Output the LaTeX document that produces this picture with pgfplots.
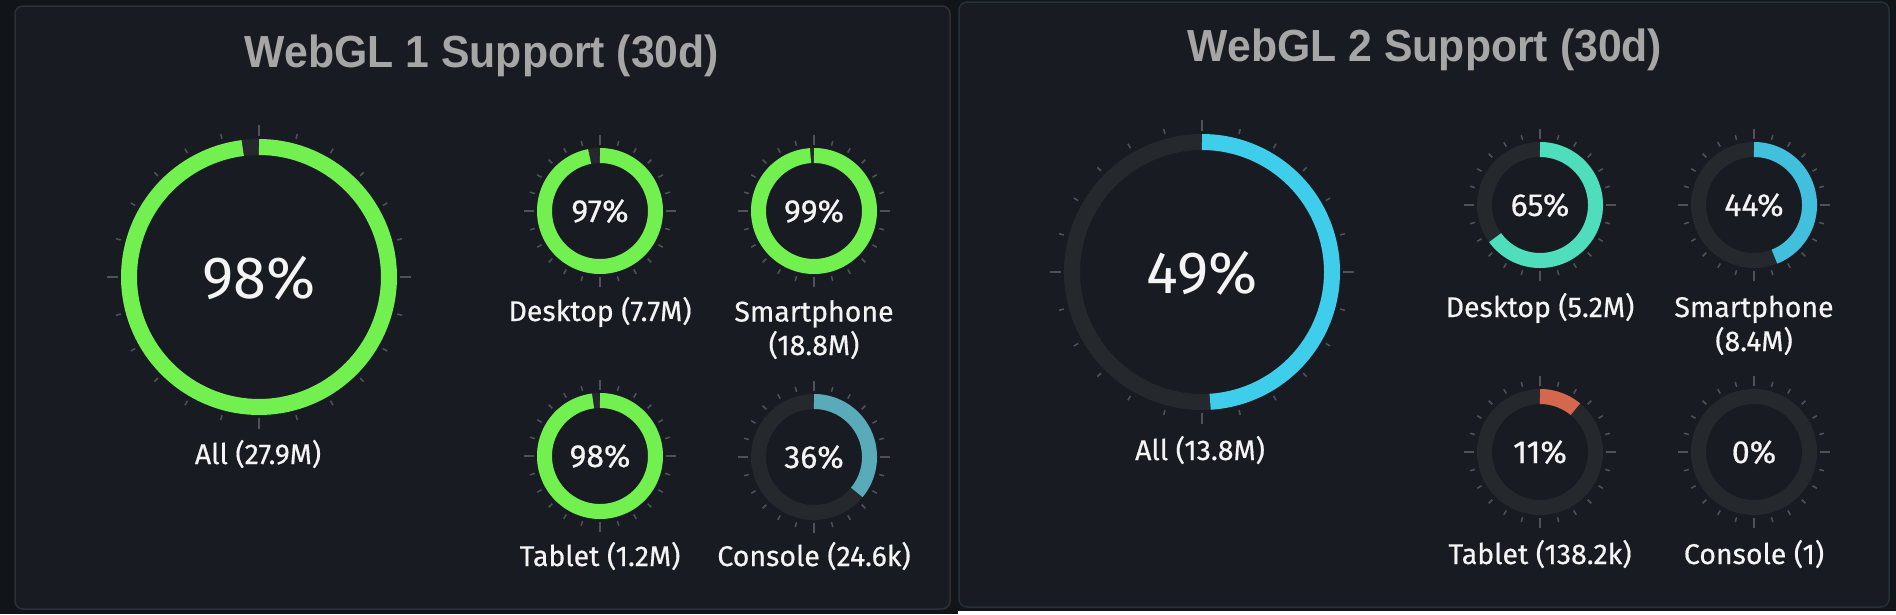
\documentclass[border=0pt]{standalone}
\usepackage{pgfplots}
\pgfplotsset{compat=1.18}
\usepackage{fontspec}
\setmainfont{Fira Sans}
\newfontfamily\labfont{Fira Sans}[FakeBold=0.5]
\newfontfamily\titlefont{Liberation Sans}

\definecolor{outerbg}{HTML}{111418}
\definecolor{panelbg}{HTML}{181B21}
\definecolor{panelbd}{HTML}{2C3037}
\definecolor{panelbdb}{HTML}{26303A}
\definecolor{trackc}{HTML}{25282D}
\definecolor{tickc}{HTML}{4F5257}
\definecolor{titlec}{HTML}{A6A6A6}
\definecolor{txt}{HTML}{F4F4F4}
\definecolor{cgreen}{HTML}{72F04F}
\definecolor{cteal}{HTML}{5AABBA}
\definecolor{ccyan}{HTML}{3FCDEC}
\definecolor{caqua}{HTML}{4FDEBB}
\definecolor{cblue}{HTML}{41BFDD}
\definecolor{cred}{HTML}{D4684F}

% background track: cx cy r w
\newcommand{\track}[4]{%
  \addplot[trackc, line width=#4pt, line cap=butt, domain=0:366, samples=150]
    ({#1+#3*sin(x)},{#2-#3*cos(x)});}
% value arc: cx cy r w pct color
\newcommand{\gauge}[6]{%
  \addplot[#6, line width=#4pt, line cap=butt, domain=0:#5, samples=140]
    ({#1+#3*sin(3.6*x)},{#2-#3*cos(3.6*x)});}
% ticks: cx cy shortin shortout longin longout
\newcommand{\gticks}[6]{%
  \pgfplotsinvokeforeach{15,30,45,60,75,105,120,135,150,165,195,210,225,240,255,285,300,315,330,345}{%
    \addplot[tickc, line width=1.5pt, domain=#3:#4, samples=2]
      ({#1+x*sin(##1)},{#2-x*cos(##1)});}%
  \pgfplotsinvokeforeach{0,90,180,270}{%
    \addplot[tickc, line width=1.5pt, domain=#5:#6, samples=2]
      ({#1+x*sin(##1)},{#2-x*cos(##1)});}%
}
\newcommand{\bigticks}[2]{\gticks{#1}{#2}{143}{148}{141}{152}}
\newcommand{\smallticks}[2]{\gticks{#1}{#2}{67.5}{72.5}{66}{76}}
\newcommand{\lab}{\labfont\fontsize{28.5}{30}\selectfont}
\newcommand{\spct}{\labfont\fontsize{32}{34}\selectfont}
\newcommand{\bpct}{\fontsize{59.5}{62}\selectfont}
\newcommand{\ttl}{\titlefont\bfseries\fontsize{45}{50}\selectfont}

\begin{document}
\begin{tikzpicture}
\begin{axis}[
  scale only axis, width=1896pt, height=614pt,
  xmin=0, xmax=1896, ymin=0, ymax=614, y dir=reverse,
  hide axis, clip=false,
]
% backgrounds
\fill[outerbg] (axis cs:0,0) rectangle (axis cs:1896,614);
\fill[white] (axis cs:958,611) rectangle (axis cs:1896,614);
\draw[panelbd, fill=panelbg, line width=1.5pt, rounded corners=8pt] (axis cs:15,6) rectangle (axis cs:950,609);
\draw[panelbdb, fill=panelbg, line width=1.5pt, rounded corners=8pt] (axis cs:959,2) rectangle (axis cs:1889,607);

% ---------- WebGL 1 ----------
\node[anchor=base, text=titlec, font=\ttl] at (axis cs:482,67) {\scalebox{0.95}[1]{WebGL 1 Support (30d)}};

\bigticks{259}{277}
\track{259}{277}{130}{16}
\gauge{259}{277}{130}{16}{98}{cgreen}
\node[anchor=base, text=txt, font=\bpct] at (axis cs:259,298) {98\%};
\node[anchor=base, text=txt, font=\lab] at (axis cs:258,464) {All (27.9M)};

\smallticks{600}{211}
\track{600}{211}{55.5}{15}
\gauge{600}{211}{55.5}{15}{97}{cgreen}
\node[anchor=base, text=txt, font=\spct] at (axis cs:600,222) {97\%};
\node[anchor=base, text=txt, font=\lab] at (axis cs:600,321) {Desktop (7.7M)};

\smallticks{814}{211}
\track{814}{211}{55.5}{15}
\gauge{814}{211}{55.5}{15}{99}{cgreen}
\node[anchor=base, text=txt, font=\spct] at (axis cs:814,222) {99\%};
\node[anchor=base, text=txt, font=\lab] at (axis cs:814,321.5) {Smartphone};
\node[anchor=base, text=txt, font=\lab] at (axis cs:814,355) {(18.8M)};

\smallticks{600}{456}
\track{600}{456}{55.5}{15}
\gauge{600}{456}{55.5}{15}{98}{cgreen}
\node[anchor=base, text=txt, font=\spct] at (axis cs:600,467) {98\%};
\node[anchor=base, text=txt, font=\lab] at (axis cs:600,566) {Tablet (1.2M)};

\smallticks{814}{457}
\track{814}{457}{55.5}{15}
\gauge{814}{457}{55.5}{15}{36}{cteal}
\node[anchor=base, text=txt, font=\spct] at (axis cs:814,468) {36\%};
\node[anchor=base, text=txt, font=\lab] at (axis cs:814,566) {Console (24.6k)};

% ---------- WebGL 2 ----------
\node[anchor=base, text=titlec, font=\ttl] at (axis cs:1425,61) {\scalebox{0.95}[1]{WebGL 2 Support (30d)}};

\bigticks{1202}{272}
\track{1202}{272}{130}{16}
\gauge{1202}{272}{130}{16}{49}{ccyan}
\node[anchor=base, text=txt, font=\bpct] at (axis cs:1202,293) {49\%};
\node[anchor=base, text=txt, font=\lab] at (axis cs:1200,460) {All (13.8M)};

\smallticks{1540}{205}
\track{1540}{205}{55.5}{15}
\gauge{1540}{205}{55.5}{15}{65}{caqua}
\node[anchor=base, text=txt, font=\spct] at (axis cs:1540,216) {65\%};
\node[anchor=base, text=txt, font=\lab] at (axis cs:1540,317) {Desktop (5.2M)};

\smallticks{1754}{205}
\track{1754}{205}{55.5}{15}
\gauge{1754}{205}{55.5}{15}{44}{cblue}
\node[anchor=base, text=txt, font=\spct] at (axis cs:1754,216) {44\%};
\node[anchor=base, text=txt, font=\lab] at (axis cs:1754,317) {Smartphone};
\node[anchor=base, text=txt, font=\lab] at (axis cs:1754,351) {(8.4M)};

\smallticks{1540}{452}
\track{1540}{452}{55.5}{15}
\gauge{1540}{452}{55.5}{15}{11}{cred}
\node[anchor=base, text=txt, font=\spct] at (axis cs:1540,463) {11\%};
\node[anchor=base, text=txt, font=\lab] at (axis cs:1540,564) {Tablet (138.2k)};

\smallticks{1754}{452}
\track{1754}{452}{55.5}{15}
\node[anchor=base, text=txt, font=\spct] at (axis cs:1754,463) {0\%};
\node[anchor=base, text=txt, font=\lab] at (axis cs:1754,564) {Console (1)};
\end{axis}
\end{tikzpicture}
\end{document}
